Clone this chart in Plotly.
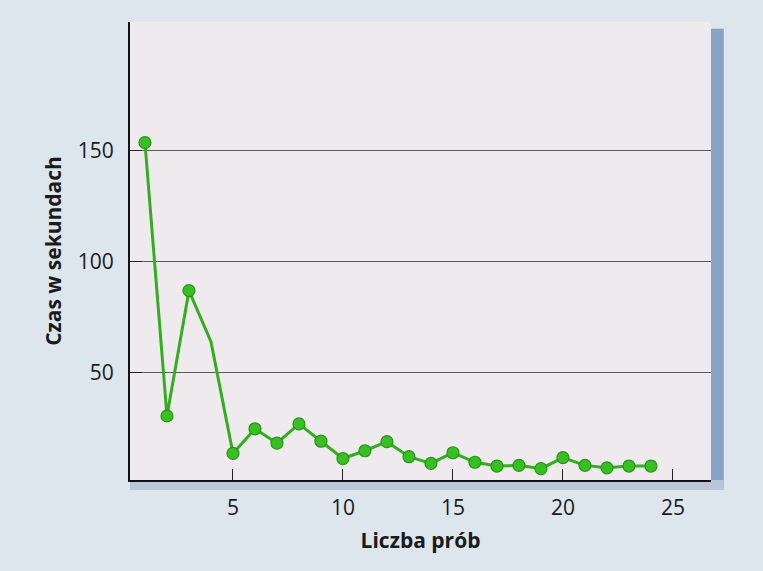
import plotly.graph_objects as go

trials = list(range(1, 25))
seconds = [153.6, 30.3, 86.8, 63.8, 13.4, 24.5, 18.0, 26.7, 18.9, 11.1,
           14.6, 18.7, 11.9, 8.9, 13.7, 9.4, 7.7, 8.0, 6.5, 11.5,
           8.0, 6.9, 7.7, 7.7]
has_marker = [True, True, True, False] + [True] * 20
x_ticks = [5, 10, 15, 20, 25]
y_ticks = [50, 100, 150]
x_title = "Liczba prób"
y_title = "Czas w sekundach"

fig = go.Figure()
fig.add_trace(go.Scatter(
    x=trials, y=seconds, mode="lines+markers",
    line=dict(color="#34ad20", width=3),
    marker=dict(size=[12 if m else 0 for m in has_marker], color="#36c021",
                line=dict(color="#2a9418", width=1.2), opacity=1),
    showlegend=False, hoverinfo="x+y",
))

font_family = "Open Sans, Noto Sans, sans-serif"
fig.update_layout(
    width=763, height=571,
    margin=dict(l=130, r=52, t=22, b=91),
    paper_bgcolor="#dde5ed",
    plot_bgcolor="#efeaee",
    font=dict(family=font_family, color="#1a1a1a", size=20),
    xaxis=dict(
        range=[0.32, 26.73], tickvals=x_ticks, ticks="inside", ticklen=11,
        tickcolor="#222", tickwidth=1.2, showgrid=False, zeroline=False,
        showline=True, linecolor="#111", linewidth=2,
        title=dict(text=x_title, font=dict(size=21, family=font_family, weight="bold"), standoff=13),
        tickfont=dict(size=21), ticklabelstandoff=8,
    ),
    yaxis=dict(
        range=[1.4, 208], tickvals=y_ticks, ticks="inside", ticklen=12,
        tickcolor="#222", tickwidth=1.2, showgrid=True, gridcolor="#5a5a5a",
        gridwidth=1, zeroline=False, showline=True, linecolor="#111", linewidth=2,
        title=dict(text=y_title, font=dict(size=21, family=font_family, weight="bold"), standoff=10),
        tickfont=dict(size=21), ticklabelstandoff=10,
    ),
    shapes=[
        dict(type="rect", xref="paper", yref="paper", x0=1.0, x1=1.022, y0=-0.02, y1=0.985,
             fillcolor="#8aa3c4", line=dict(width=0), layer="below"),
        dict(type="rect", xref="paper", yref="paper", x0=0.0, x1=1.022, y0=-0.022, y1=0.0,
             fillcolor="#b8c6d8", line=dict(width=0), layer="below"),
    ],
)

fig.write_html("out.html", config={"displayModeBar": False},
               post_script="document.body.style.margin='0';")
